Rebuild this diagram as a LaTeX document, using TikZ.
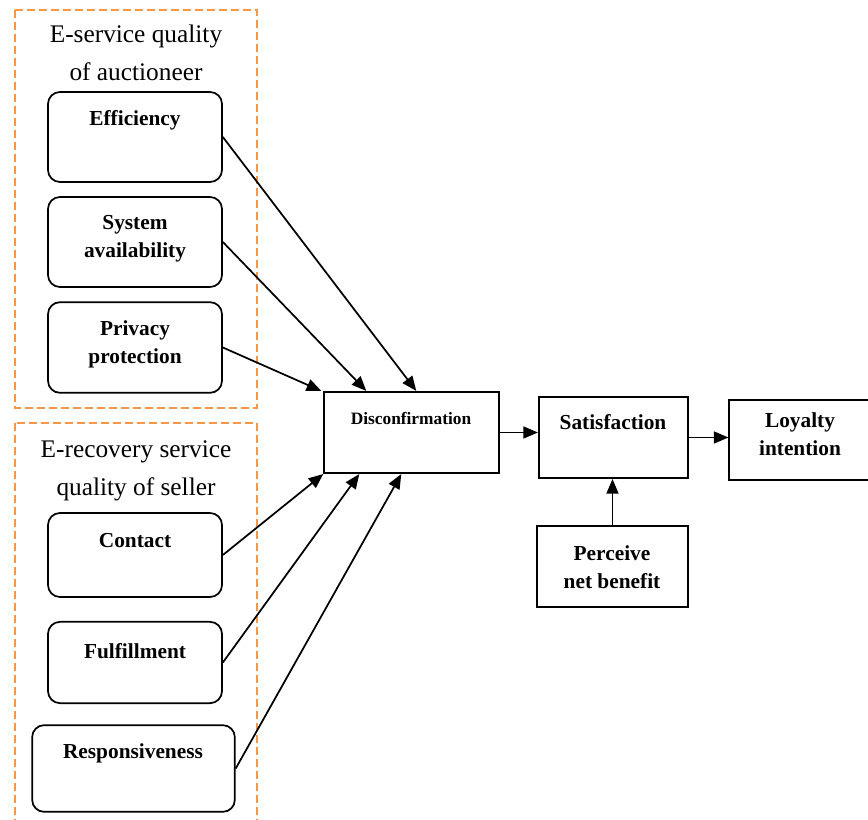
\documentclass[tikz,border=0pt]{standalone}
\usepackage{fontspec}
\setmainfont{Liberation Serif}
\usetikzlibrary{arrows.meta}
\definecolor{dashorange}{RGB}{247,150,70}

\begin{document}
\begin{tikzpicture}[x=0.75pt,y=-0.75pt,>={Triangle[length=11pt,width=9pt]},
  group/.style={draw=dashorange,line width=1.1pt,dash pattern=on 6pt off 3pt},
  card/.style={draw,rounded corners=9pt,line width=1.3pt,minimum width=130.5pt},
  block/.style={draw,line width=1.3pt},
  lbl/.style={font=\bfseries\fontsize{16}{21}\selectfont,align=center,inner sep=0pt},
  head/.style={font=\fontsize{19}{28.5}\selectfont,align=center,inner sep=0pt}]
  \clip (0,0) rectangle (868,820);
  % dashed groups
  \draw[group] (15,10) rectangle (257,408);
  \draw[group] (15,423) rectangle (257,840);
  \node[head] (auct) at (136,53) {E-service quality\\of auctioneer};
  \node[head] (sell) at (136,471) {E-recovery service\\quality of seller};
  % service quality items
  \node[card,minimum height=67.5pt] (eff) at (135,137) {};
  \node[card,minimum height=67.5pt] (sys) at (135,242) {};
  \node[card,minimum height=68pt] (priv) at (135,347.5) {};
  \node[card,minimum height=63pt] (cont) at (135,555) {};
  \node[card,minimum height=61pt] (fulf) at (135,662.5) {};
  \node[card,minimum width=152pt,minimum height=65pt] (resp) at (133.5,768.5) {};
  \node[lbl] (eff-t) at (135,120) {Efficiency};
  \node[lbl] (sys-t) at (135,239) {System\\availability};
  \node[lbl] (priv-t) at (135,344) {Privacy\\protection};
  \node[lbl] (cont-t) at (135,541) {Contact};
  \node[lbl] (fulf-t) at (135,651) {Fulfillment};
  \node[lbl] (resp-t) at (133,753) {Responsiveness};
  % main chain
  \node[block,minimum width=131pt,minimum height=61pt] (disc) at (411.5,432.5) {};
  \node[block,minimum width=112pt,minimum height=61pt] (sat) at (613.5,437.5) {};
  \node[block,minimum width=106pt,minimum height=60pt] (loy) at (800,440) {};
  \node[block,minimum width=113pt,minimum height=61pt] (perc) at (612.5,566.5) {};
  \node[lbl,font=\bfseries\fontsize{13}{16}\selectfont] (disc-t) at (411,418) {Disconfirmation};
  \node[lbl] (sat-t) at (613,422) {Satisfaction};
  \node[lbl] (loy-t) at (800,434) {Loyalty\\intention};
  \node[lbl] (perc-t) at (612,567) {Perceive\\net benefit};
  % arrows
  \draw[->,line width=1.3pt] (eff.east) -- ([xshift=69.75pt]disc.north west);
  \draw[->,line width=1.3pt] (sys.east) -- ([xshift=32.25pt]disc.north west);
  \draw[->,line width=1.3pt] (priv.east) -- ([xshift=-1.5pt]disc.north west);
  \draw[->,line width=1.3pt] (cont.east) -- (disc.south west);
  \draw[->,line width=1.3pt] (fulf.east) -- ([xshift=27pt]disc.south west);
  \draw[->,line width=1.3pt] (resp.east) -- ([xshift=58.5pt]disc.south west);
  \draw[->,line width=1.3pt] (disc.east) -- (disc.east -| sat.west);
  \draw[->,line width=1.3pt] (sat.east) -- (sat.east -| loy.west);
  \draw[->,line width=1.3pt] (perc.north) -- (perc.north |- sat.south);
\end{tikzpicture}
\end{document}
